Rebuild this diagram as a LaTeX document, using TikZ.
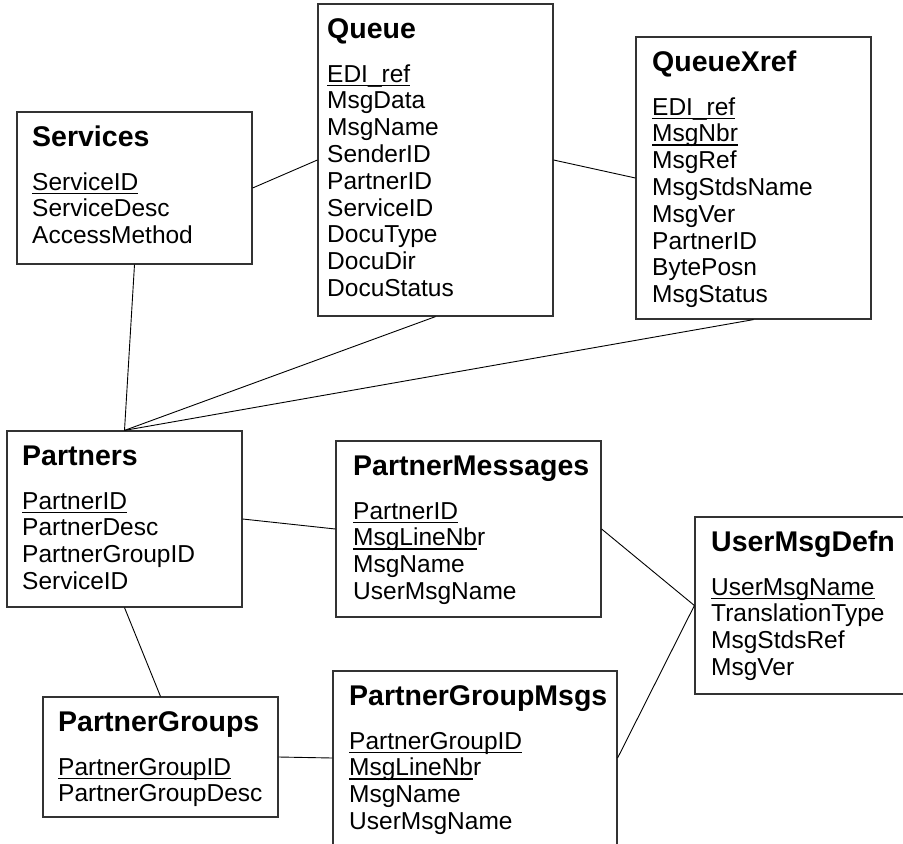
\documentclass[tikz,border=0pt]{standalone}
\usepackage{fontspec}
\setmainfont{Liberation Sans}

% key attributes: underlined with a rule of fixed depth
\newlength\keyw
\newcommand\keyfield[1]{\settowidth\keyw{#1}\rlap{\rule[-4pt]{\keyw}{1.4pt}}#1}

\tikzset{
  ebox/.style={draw=black!80, line width=1.2pt, fill=white, inner sep=0pt, rectangle},
  etitle/.style={anchor=base west, inner sep=0pt, font=\fontsize{28.5}{30}\selectfont\bfseries},
  efield/.style={anchor=base west, inner sep=0pt, font=\fontsize{24.5}{27}\selectfont},
  rel/.style={draw=black, line width=0.9pt},
}

% \fields{prefix}{x}{first baseline}{list}
\newcommand\fields[4]{%
  \foreach \f [count=\i] in {#4}
    \node[efield] (#1-\i) at (#2,{#3+(\i-1)*26.8}) {\f};%
}

\begin{document}
\begin{tikzpicture}[x=1pt, y=-1pt]
  \useasboundingbox (0,0) rectangle (903,844);
  \clip (0,0) rectangle (903,844);

  % entity boxes
  \node[ebox, minimum width=235pt, minimum height=152pt] (svc)   at (134.5,188)   {};
  \node[ebox, minimum width=235pt, minimum height=312pt] (queue) at (435.5,160)   {};
  \node[ebox, minimum width=235pt, minimum height=282pt] (qx)    at (753.5,178)   {};
  \node[ebox, minimum width=235pt, minimum height=176pt] (part)  at (124.5,519)   {};
  \node[ebox, minimum width=265pt, minimum height=176pt] (pm)    at (468.5,529)   {};
  \node[ebox, minimum width=235pt, minimum height=120pt] (pg)    at (160.5,757)   {};
  \node[ebox, minimum width=284pt, minimum height=174pt] (pgm)   at (475,758)     {};
  \node[ebox, minimum width=215pt, minimum height=177pt] (umd)   at (802.5,605.5) {};

  % relationships
  \draw[rel] (svc.east)   -- (queue.west);
  \draw[rel] (queue.east) -- (qx.west);
  \draw[rel] (svc.south)  -- (part.north);
  \draw[rel] (queue.south) -- (part.north);
  \draw[rel] (qx.south)   -- (part.north);
  \draw[rel] (part.east)  -- (pm.west);
  \draw[rel] (part.south) -- (pg.north);
  \draw[rel] (pg.east)    -- (pgm.west);
  \draw[rel] (pm.east)    -- (umd.west);
  \draw[rel] (pgm.east)   -- (umd.west);

  % Services
  \node[etitle] (svc-t) at (32,146) {Services};
  \fields{svc}{32}{190}{\keyfield{ServiceID}, ServiceDesc, AccessMethod}

  % Queue
  \node[etitle] (queue-t) at (327,38) {Queue};
  \fields{queue}{327}{82}{\keyfield{EDI\_ref}, MsgData, MsgName, SenderID, PartnerID, ServiceID, DocuType, DocuDir, DocuStatus}

  % QueueXref
  \node[etitle] (qx-t) at (652,71) {QueueXref};
  \fields{qx}{652}{115}{\keyfield{EDI\_ref}, \keyfield{MsgNbr}, MsgRef, MsgStdsName, MsgVer, PartnerID, BytePosn, MsgStatus}

  % Partners
  \node[etitle] (part-t) at (22,465) {Partners};
  \fields{part}{22}{509}{\keyfield{PartnerID}, PartnerDesc, PartnerGroupID, ServiceID}

  % PartnerMessages
  \node[etitle] (pm-t) at (353,475) {PartnerMessages};
  \fields{pm}{353}{519}{\keyfield{PartnerID}, \keyfield{MsgLineNb}r, MsgName, UserMsgName}

  % PartnerGroups
  \node[etitle] (pg-t) at (58,731) {PartnerGroups};
  \fields{pg}{58}{775}{\keyfield{PartnerGroupID}, PartnerGroupDesc}

  % PartnerGroupMsgs
  \node[etitle] (pgm-t) at (349,705) {PartnerGroupMsgs};
  \fields{pgm}{349}{749}{\keyfield{PartnerGroupID}, \keyfield{MsgLineNb}r, MsgName, UserMsgName}

  % UserMsgDefn
  \node[etitle] (umd-t) at (711,551) {UserMsgDefn};
  \fields{umd}{711}{595}{\keyfield{UserMsgName}, TranslationType, MsgStdsRef, MsgVer}
\end{tikzpicture}
\end{document}
